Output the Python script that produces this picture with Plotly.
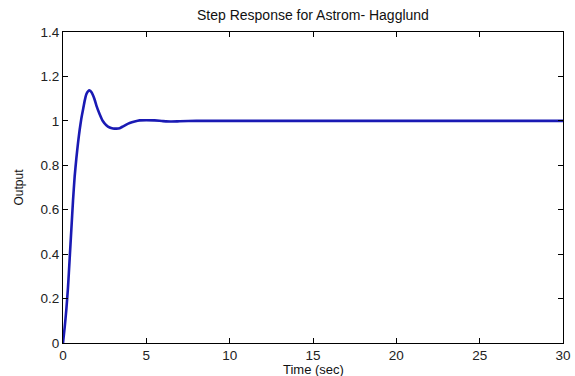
import plotly.graph_objects as go

time_s = [0, 0.1, 0.2, 0.3, 0.4, 0.5, 0.6, 0.7, 0.8, 0.9, 1.0, 1.1, 1.2, 1.3, 1.4, 1.5,
          1.6, 1.7, 1.8, 1.9, 2.0, 2.2, 2.4, 2.6, 2.8, 3.0, 3.2, 3.4, 3.6, 3.8, 4.0,
          4.3, 4.6, 5.0, 5.5, 6.0, 6.5, 7.0, 8.0, 10.0, 15.0, 20.0, 25.0, 30.0]
output = [0, 0.07, 0.15, 0.25, 0.38, 0.51, 0.64, 0.75, 0.83, 0.90, 0.96, 1.01, 1.05, 1.09,
          1.12, 1.133, 1.137, 1.13, 1.115, 1.095, 1.07, 1.03, 0.998, 0.98, 0.97, 0.966,
          0.965, 0.967, 0.975, 0.983, 0.99, 0.997, 1.002, 1.003, 1.002, 0.999, 0.997,
          0.998, 1.0, 1.0, 1.0, 1.0, 1.0, 1.0]

x_ticks = [0, 5, 10, 15, 20, 25, 30]
y_ticks = [0, 0.2, 0.4, 0.6, 0.8, 1.0, 1.2, 1.4]

title_text = "Step Response for Astrom- Hagglund"
x_title = "Time (sec)"
y_title = "Output"

fig = go.Figure()
fig.add_trace(go.Scatter(x=time_s, y=output, mode="lines",
                         line=dict(color="#1a1ab4", width=2.6, shape="spline", smoothing=0.5),
                         showlegend=False, hoverinfo="skip"))

font_family = "Liberation Sans, Arial, sans-serif"
axis_common = dict(showline=True, linecolor="black", linewidth=1, mirror="ticks",
                   ticks="inside", ticklen=5, tickcolor="black", showgrid=False,
                   zeroline=False, automargin=False,
                   tickfont=dict(family=font_family, size=13.5, color="#222"))

L, R, T, B = 63, 12, 32, 33
W, H = 575, 376
pw, ph = W - L - R, H - T - B

fig.update_layout(
    width=W, height=H,
    margin=dict(l=L, r=R, t=T, b=B),
    paper_bgcolor="white", plot_bgcolor="white",
    xaxis=dict(range=[0, 30], tickvals=x_ticks, **axis_common),
    yaxis=dict(range=[0, 1.4], tickvals=y_ticks, **axis_common),
    annotations=[
        dict(text=title_text, xref="paper", yref="paper", x=0.5, y=(ph + T - 15) / ph,
             xanchor="center", yanchor="middle", showarrow=False,
             font=dict(family=font_family, size=14, color="#111")),
        dict(text=x_title, xref="paper", yref="paper", x=0.5, y=-(369 - (T + ph)) / ph,
             xanchor="center", yanchor="middle", showarrow=False,
             font=dict(family=font_family, size=13, color="#111")),
        dict(text=y_title, xref="paper", yref="paper", x=(18 - L) / pw, y=0.5,
             xanchor="center", yanchor="middle", showarrow=False, textangle=-90,
             font=dict(family=font_family, size=12, color="#111")),
    ],
)

fig.write_html("out.html", config={"displayModeBar": False},
               post_script="document.body.style.margin='0';")
